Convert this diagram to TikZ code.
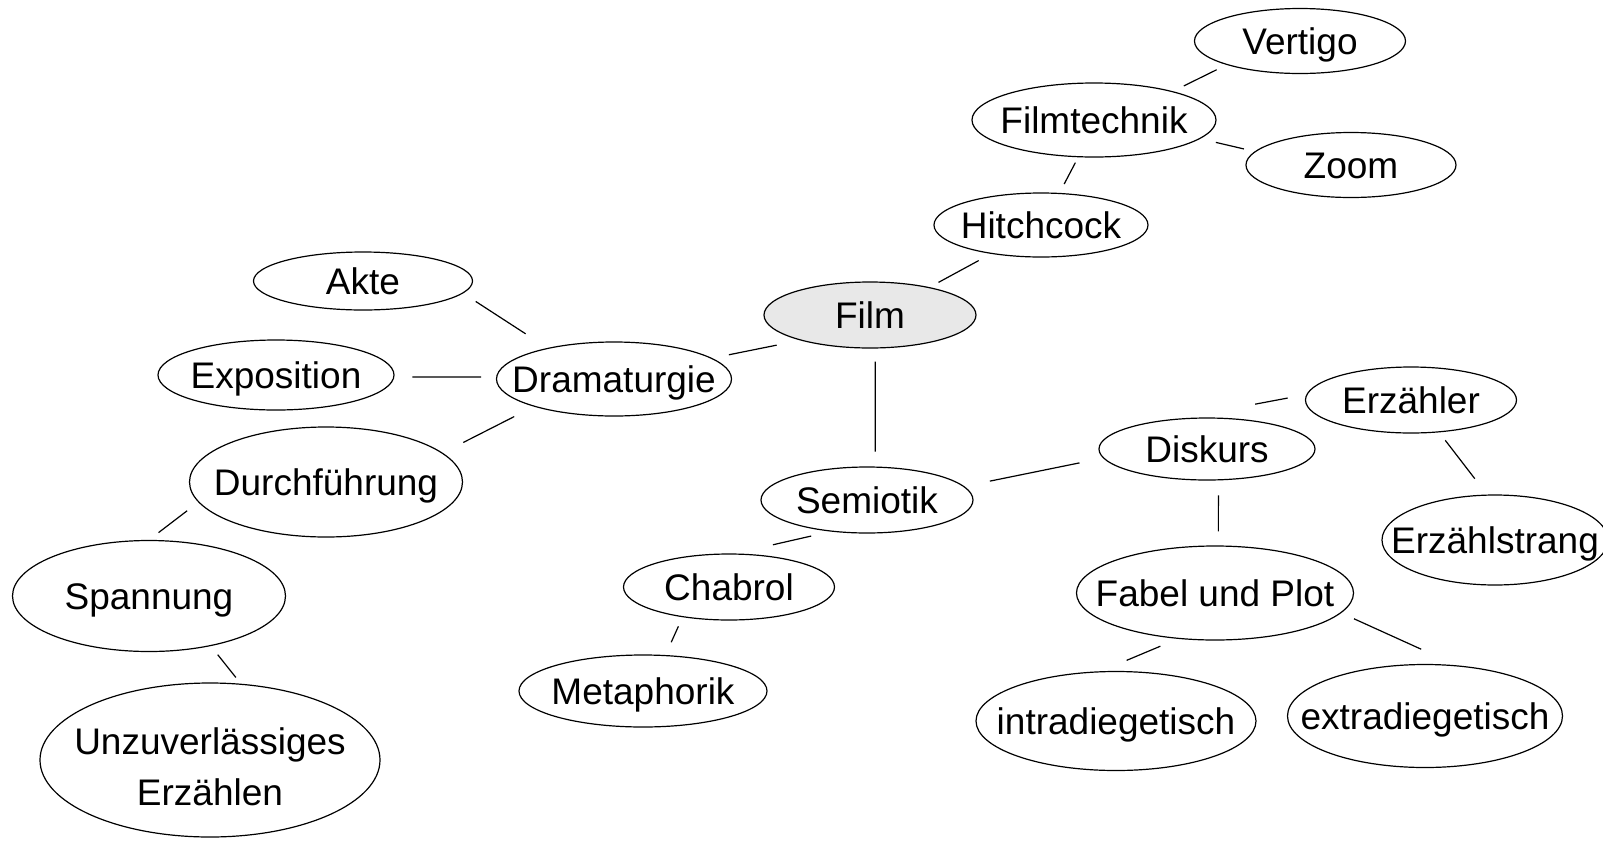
\documentclass[tikz,border=0pt]{standalone}
\usepackage{fontspec}
\setmainfont{Liberation Sans}
\usepackage{xcolor}
\usepackage{tikz}
\usetikzlibrary{shapes.geometric}
\colorlet{rootfill}{black!9}

\begin{document}
\begin{tikzpicture}[x=0.5pt, y=-0.5pt,
    bub/.style 2 args={draw, ellipse, line width=0.6pt, inner sep=0pt,
      minimum width=#1*0.5pt, minimum height=#2*0.5pt},
    every label/.style={font=\fontsize{18.5}{25.5}\selectfont, inner sep=0pt,
      text height=13.2pt, text depth=0pt},
    link/.style={line width=0.6pt}]
        \useasboundingbox (0,0) rectangle (1603,847);
        % Root
        \node[bub={212}{66}, fill=rootfill, label=center:Film] (film) at (870,315) {};
        % Hitchcock branch
        \node[bub={214}{64}, label=center:Hitchcock] (hitchcock) at (1041,225) {};
        \node[bub={244}{74}, label=center:Filmtechnik] (filmtechnik) at (1094,120) {};
        \node[bub={211}{65}, label=center:Vertigo] (vertigo) at (1300,41) {};
        \node[bub={210}{65}, label=center:Zoom] (zoom) at (1351,165) {};
        % Dramaturgie branch
        \node[bub={235}{74}, label=center:Dramaturgie] (dramaturgie) at (614,379) {};
        \node[bub={219}{58}, label=center:Akte] (akte) at (363,281) {};
        \node[bub={236}{70}, label=center:Exposition] (exposition) at (276,375) {};
        \node[bub={273}{110}, label=center:Durchführung] (durchfuehrung) at (326,482) {};
        \node[bub={273}{111}, label=center:Spannung] (spannung) at (149,596) {};
        \node[bub={340}{154}, label={[align=center, text height=, text depth=, yshift=-3.5pt]center:Unzuverlässiges\\Erzählen}] (unzuverl) at (210,760) {};
        % Semiotik branch
        \node[bub={212}{66}, label=center:Semiotik] (semiotik) at (867,500) {};
        \node[bub={211}{66}, label=center:Chabrol] (chabrol) at (729,587) {};
        \node[bub={248}{72}, label=center:Metaphorik] (metaphorik) at (643,691) {};
        \node[bub={216}{62}, label=center:Diskurs] (diskurs) at (1207,449) {};
        \node[bub={211}{66}, label=center:Erzähler] (erzaehler) at (1411,400) {};
        \node[bub={226}{90}, label=center:Erzählstrang] (erzaehlstrang) at (1495,540) {};
        \node[bub={277}{94}, label=center:Fabel und Plot] (fabel) at (1215,593) {};
        \node[bub={280}{99}, label=center:intradiegetisch] (intra) at (1116,721) {};
        \node[bub={275}{103}, label=center:extradiegetisch] (extra) at (1425,716) {};
        % Links, with a gap at both ends
        \draw[link, shorten <=6pt, shorten >=5.5pt] (filmtechnik.20) -- (vertigo.198);
        \draw[link, shorten <=8pt, shorten >=5.5pt] (filmtechnik.-10) -- (zoom.172);
        \draw[link, shorten <=3pt, shorten >=5pt] (filmtechnik.247) -- (hitchcock.60);
        \draw[link, shorten <=7pt, shorten >=5pt] (hitchcock.210) -- (film.25);
        \draw[link, shorten <=12pt, shorten >=8.5pt] (film.200) -- (dramaturgie.12);
        \draw[link, shorten <=6.5pt, shorten >=7.5pt] (film.-81) -- (semiotik.76);
        \draw[link, shorten <=7.5pt, shorten >=13pt] (akte.-7) -- (dramaturgie.155);
        \draw[link, shorten <=9pt, shorten >=7.5pt] (exposition.-1) -- (dramaturgie.179);
        \draw[link, shorten <=11pt, shorten >=11.5pt] (dramaturgie.199) -- (durchfuehrung.14);
        \draw[link, shorten <=7pt, shorten >=6pt] (durchfuehrung.189) -- (spannung.90);
        \draw[link, shorten <=5.5pt, shorten >=4pt] (spannung.-39) -- (unzuverl.68);
        \draw[link, shorten <=10pt, shorten >=19.5pt] (semiotik.221) -- (chabrol.80);
        \draw[link, shorten <=5pt, shorten >=7pt] (chabrol.213) -- (metaphorik.58);
        \draw[link, shorten <=13pt, shorten >=12pt] (semiotik.8) -- (diskurs.185);
        \draw[link, shorten <=38.5pt, shorten >=9.5pt] (diskurs.132) -- (erzaehler.177);
        \draw[link, shorten <=5pt, shorten >=10pt] (erzaehler.-49) -- (erzaehlstrang.100);
        \draw[link, shorten <=7.5pt, shorten >=7pt] (diskurs.-70) -- (fabel.86);
        \draw[link, shorten <=9.5pt, shorten >=14pt] (fabel.231) -- (intra.107);
        \draw[link, shorten <=7pt, shorten >=19.5pt] (fabel.-9) -- (extra.58);
\end{tikzpicture}
\end{document}
